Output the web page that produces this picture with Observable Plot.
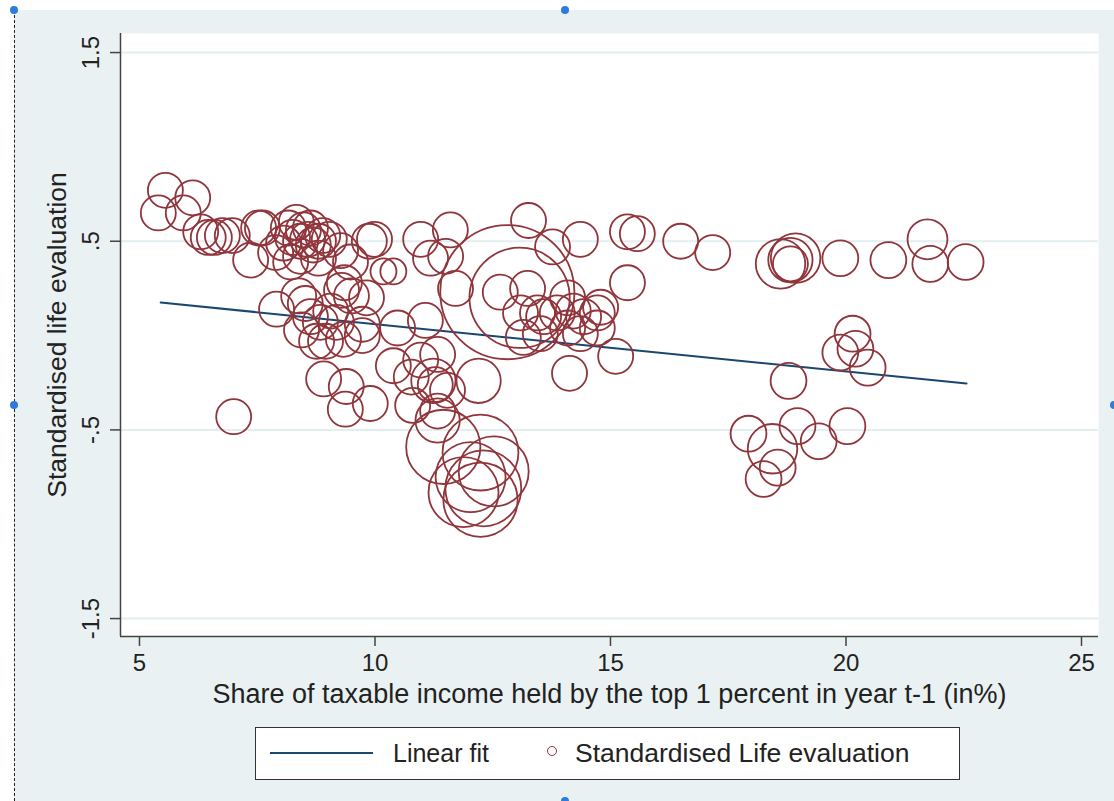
<!DOCTYPE html>
<html>
<head>
<meta charset="utf-8">
<script src="https://cdn.jsdelivr.net/npm/d3@7"></script>
<script src="https://cdn.jsdelivr.net/npm/@observablehq/plot@0.6"></script>
<style>
html,body{margin:0;padding:0;background:#fff;width:1114px;height:801px;overflow:hidden;font-family:"Liberation Sans",Arial,Helvetica,sans-serif;color:#222;}
#bg{position:absolute;left:14px;top:10px;width:1100px;height:791px;background:#e9f1f2;border-left:1.5px dashed #222;box-sizing:border-box;}
#chart{position:absolute;left:0;top:0;}
#legend{position:absolute;left:255px;top:727px;width:705px;height:53px;background:#fff;border:1.5px solid #333;box-sizing:border-box;}
#legend .ln{position:absolute;left:14px;top:24px;width:103px;height:2px;background:#1a476f;}
#legend .mk{position:absolute;left:291px;top:18px;width:8px;height:8px;border:1.5px solid #90353b;border-radius:50%;}
#legend .tx{position:absolute;top:0;line-height:51px;font-size:26px;white-space:nowrap;}
.hd{position:absolute;width:8px;height:8px;border-radius:50%;background:#2d7be0;}
</style>
</head>
<body>
<div id="bg"></div>
<div id="chart"></div>
<div id="legend">
  <div class="ln"></div><span class="tx" style="left:137px;font-size:25px">Linear fit</span>
  <div class="mk"></div><span class="tx" style="left:319px;font-size:26.5px">Standardised Life evaluation</span>
</div>
<div class="hd" style="left:10px;top:6px"></div>
<div class="hd" style="left:561px;top:6px"></div>
<div class="hd" style="left:10px;top:401px"></div>
<div class="hd" style="left:1110px;top:401px"></div>
<div class="hd" style="left:561px;top:797px"></div>
<script>
// Share of taxable income held by top 1% (x), standardised life evaluation (y), bubble weight
const lifeShare = [5.55,5.40,6.13,5.93,6.30,6.46,6.59,6.76,6.97,7.53,7.61,7.36,
  7.89,8.06,8.16,8.25,8.33,8.42,8.48,8.57,8.63,8.69,8.80,8.89,8.21,8.42,8.80,9.03,9.27,9.48,9.88,9.99,10.18,10.39,
  7.91,8.38,8.52,8.44,8.63,8.84,9.06,9.18,9.29,9.35,9.50,9.33,8.95,8.76,9.73,9.82,9.73,10.48,11.07,
  7.00,8.91,9.39,9.37,9.90,10.39,10.77,10.97,11.33,11.28,11.24,11.54,12.20,10.80,11.33,11.33,
  11.45,12.24,12.03,12.52,12.30,12.24,11.88,
  12.81,13.07,11.71,12.66,13.24,
  10.97,11.60,11.18,11.50,13.26,13.77,14.36,
  13.09,13.45,13.58,13.87,14.09,14.21,14.43,14.72,14.72,13.15,13.51,14.36,14.09,14.79,14.13,15.11,15.36,15.36,15.57,
  16.49,17.17,18.61,18.82,18.93,18.82,19.88,20.90,21.73,21.79,22.54,
  18.78,20.14,20.20,19.88,20.46,
  17.93,18.44,18.97,19.42,20.03,18.55,18.25];
const lifeEval = [0.77,0.65,0.73,0.65,0.55,0.52,0.52,0.53,0.53,0.57,0.57,0.40,
  0.44,0.49,0.57,0.52,0.60,0.50,0.56,0.51,0.57,0.48,0.50,0.53,0.39,0.42,0.41,0.51,0.45,0.39,0.50,0.51,0.34,0.34,
  0.14,0.21,0.17,0.03,0.10,0.07,0.13,0.07,0.24,0.28,0.21,-0.02,-0.03,-0.03,0.00,0.20,0.06,0.04,0.08,
  -0.43,-0.23,-0.27,-0.39,-0.36,-0.16,-0.22,-0.13,-0.10,-0.26,-0.24,-0.29,-0.24,-0.37,-0.40,-0.45,
  -0.59,-0.62,-0.75,-0.72,-0.81,-0.87,-0.83,
  0.23,0.20,0.25,0.23,0.25,
  0.51,0.56,0.41,0.42,0.61,0.47,0.51,
  0.12,0.12,0.10,0.12,0.20,0.13,0.10,0.12,0.04,-0.01,0.01,0.01,0.04,0.15,-0.20,-0.11,0.28,0.55,0.54,
  0.50,0.44,0.38,0.40,0.41,0.38,0.41,0.40,0.51,0.38,0.39,
  -0.24,0.01,-0.07,-0.09,-0.17,
  -0.52,-0.60,-0.48,-0.56,-0.48,-0.70,-0.76];
const lifeWeight = [1,1,1,1,1,1,1,1,1,1,1,1,
  1,1,1,1,1,1,1,1,1,1,1,1,1,1,1,1,1,1,1,1,0.55,0.55,
  1,1,1,1,1,1,1,1,1,1,1,1,1,1,1,1,1,1,1,
  1,1,1,1,1,1,1,1,1,1,1.6,1,1.6,1,1,1.6,
  4.5,4.7,4,4,4.7,4.5,4,
  14.7,8.2,1,1,1,
  1,1,1,1,1,1,1,
  1,1,1,1,1,1,1,1,1,1,1,1,1,1,1,1,1,1,1,
  1,1,2,1.6,2,1,1.05,1.05,1.3,1.05,1.05,
  1.05,1.05,1.05,1.05,1.05,
  1.05,2,1.05,1.05,1.05,1.05,1.05];

// Linear fit endpoints
const fitShare = [5.45, 22.56];
const fitEval = [0.175, -0.254];

// Axis ticks and extents
const xTicks = [5, 10, 15, 20, 25];
const yTicks = [-1.5, -0.5, 0.5, 1.5];
const xDomain = [4.597, 25.361];
const yDomain = [-1.595, 1.601];

const xTitle = "Share of taxable income held by the top 1 percent in year t-1 (in%)";
const yTitle = "Standardised life evaluation";

const points = lifeShare.map((x, i) => ({x, y: lifeEval[i], w: lifeWeight[i]}));
const fit = fitShare.map((x, i) => ({x, y: fitEval[i]}));
const fmt = d => String(d).replace(/^(-?)0\./, "$1.");

const chart = Plot.plot({
  width: 1114, height: 715,
  marginLeft: 120, marginRight: 16, marginTop: 33, marginBottom: 79,
  style: {background: "transparent", fontFamily: "'Liberation Sans', Arial, sans-serif", color: "#222"},
  x: {domain: xDomain},
  y: {domain: yDomain},
  r: {type: "sqrt", domain: [0, 16], range: [0, 70]},
  marks: [
    Plot.frame({fill: "white"}),
    Plot.gridY(yTicks, {stroke: "#e3eef0", strokeOpacity: 1, strokeWidth: 2}),
    Plot.ruleX([xDomain[0]], {stroke: "#444", strokeWidth: 1.5}),
    Plot.ruleY([yDomain[0]], {stroke: "#444", strokeWidth: 1.5}),
    Plot.axisX(xTicks, {tickSize: 10, tickPadding: 7, fontSize: 24, label: null, stroke: "#444", strokeWidth: 1.5}),
    Plot.axisY(yTicks, {tickSize: 10, tickPadding: 12, tickRotate: -90, fontSize: 24, label: null, tickFormat: fmt, stroke: "#444", strokeWidth: 1.5, textAnchor: "middle", lineAnchor: "bottom"}),
    Plot.text([xTitle], {frameAnchor: "bottom", dy: 66, fontSize: 27}),
    Plot.text([yTitle], {frameAnchor: "left", dx: -63, rotate: -90, fontSize: 26.5, textAnchor: "middle"}),
    Plot.line(fit, {x: "x", y: "y", stroke: "#1a476f", strokeWidth: 2}),
    Plot.dot(points, {x: "x", y: "y", r: "w", stroke: "#90353b", strokeWidth: 1.8, fill: "none"})
  ]
});
document.getElementById("chart").appendChild(chart);
</script>
</body>
</html>
